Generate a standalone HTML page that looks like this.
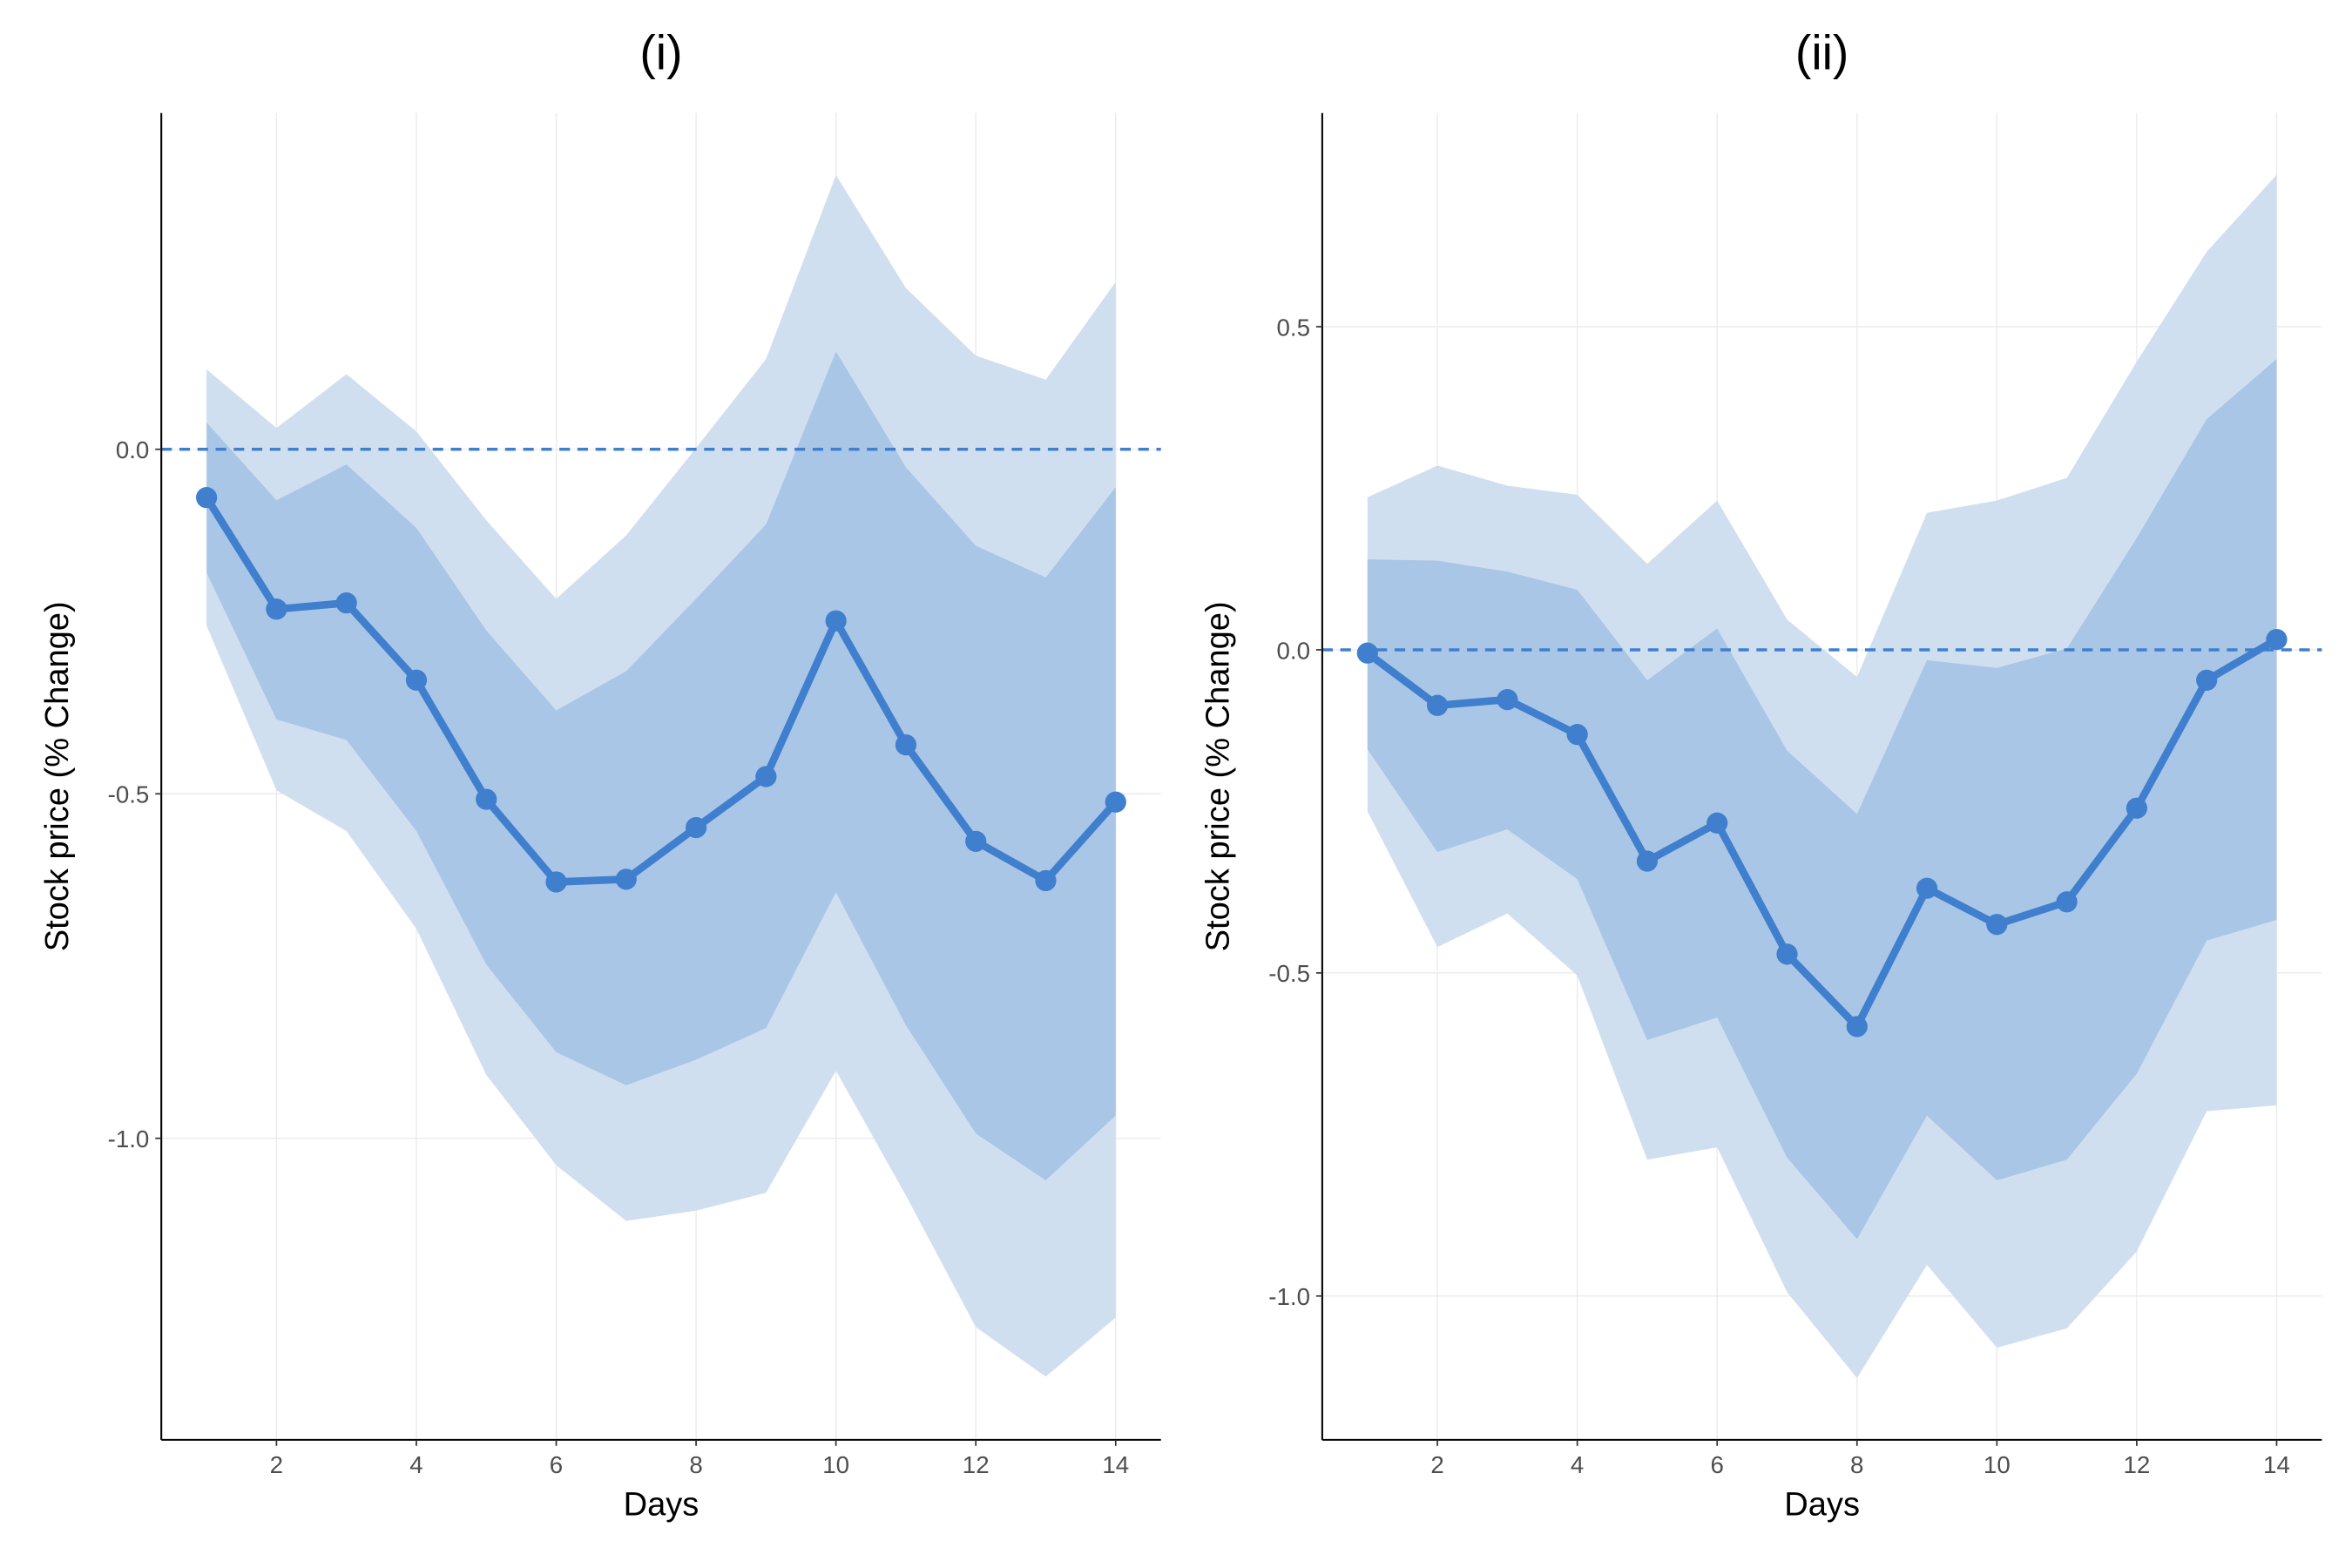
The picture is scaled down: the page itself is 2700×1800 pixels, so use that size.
<!DOCTYPE html>
<html><head><meta charset="utf-8"><style>
html,body{margin:0;padding:0;background:#fff;}
svg{display:block;font-family:"Liberation Sans",sans-serif;}
</style></head><body>
<svg id="chart" width="2700" height="1800" viewBox="0 0 1560 1040" xmlns="http://www.w3.org/2000/svg"></svg>
<script>
const days = [1,2,3,4,5,6,7,8,9,10,11,12,13,14];
const meanI = [-0.070,-0.232,-0.223,-0.335,-0.508,-0.628,-0.624,-0.549,-0.475,-0.249,-0.429,-0.569,-0.626,-0.512];
const innerUpI = [0.039,-0.074,-0.022,-0.114,-0.263,-0.379,-0.322,-0.217,-0.109,0.142,-0.026,-0.140,-0.186,-0.055];
const innerLoI = [-0.179,-0.392,-0.422,-0.554,-0.748,-0.875,-0.923,-0.886,-0.840,-0.643,-0.836,-0.993,-1.061,-0.967];
const outerUpI = [0.116,0.031,0.109,0.026,-0.103,-0.217,-0.125,0.002,0.131,0.398,0.234,0.136,0.101,0.243];
const outerLoI = [-0.256,-0.495,-0.554,-0.696,-0.908,-1.039,-1.120,-1.105,-1.079,-0.902,-1.083,-1.274,-1.346,-1.260];
const meanII = [-0.005,-0.086,-0.077,-0.131,-0.327,-0.268,-0.471,-0.583,-0.369,-0.425,-0.390,-0.245,-0.047,0.016];
const innerUpII = [0.140,0.138,0.121,0.093,-0.047,0.033,-0.156,-0.254,-0.016,-0.028,0.002,0.173,0.357,0.450];
const innerLoII = [-0.154,-0.313,-0.278,-0.355,-0.604,-0.569,-0.786,-0.912,-0.721,-0.821,-0.789,-0.656,-0.450,-0.418];
const outerUpII = [0.236,0.285,0.254,0.240,0.133,0.231,0.047,-0.042,0.212,0.231,0.266,0.446,0.616,0.735];
const outerLoII = [-0.250,-0.460,-0.408,-0.504,-0.789,-0.770,-0.994,-1.127,-0.952,-1.080,-1.050,-0.931,-0.714,-0.705];
const xTicks = [2,4,6,8,10,12,14];
const yTicksI = [0,-0.5,-1.0];
const yTicksII = [0.5,0,-0.5,-1.0];
const titles = ["(i)","(ii)"];

const NS="http://www.w3.org/2000/svg";
const svg=document.getElementById('chart');
function mk(tag,attrs,parent){const e=document.createElementNS(NS,tag);for(const k in attrs)e.setAttribute(k,attrs[k]);(parent||svg).appendChild(e);return e;}

function panel(o){
  const g=mk('g',{});
  
  
  const xs=d=>o.x1+(d-1)*(o.x14-o.x1)/13;
  const ys=v=>o.y0-v*o.ppu;
  xTicks.forEach(t=>{const l=mk('line',{x1:xs(t),x2:xs(t),y1:o.top,y2:o.bottom,stroke:'#ebebeb','stroke-width':0.8},g);
    });
  o.yt.forEach(t=>{const l=mk('line',{x1:o.left,x2:o.right,y1:ys(t),y2:ys(t),stroke:'#ebebeb','stroke-width':0.8},g);
    });
  function band(up,lo,fill,name){
    let pts=days.map((d,i)=>xs(d)+','+ys(up[i]));
    pts=pts.concat(days.slice().reverse().map((d,j)=>{const i=days.length-1-j;return xs(d)+','+ys(lo[i]);}));
    const p=mk('polygon',{points:pts.join(' '),fill:fill},g);
    
    
  }
  band(o.ou,o.ol,'#d0dff0','outer-confidence-band');
  band(o.iu,o.il,'#aac6e6','inner-confidence-band');
  const z=mk('line',{x1:o.left,x2:o.right,y1:ys(0),y2:ys(0),stroke:'#3f7fcd','stroke-width':2,'stroke-dasharray':'7,5'},g);
  
  const pl=mk('polyline',{points:days.map((d,i)=>xs(d)+','+ys(o.m[i])).join(' '),fill:'none',stroke:'#3f7fcd','stroke-width':5,'stroke-linejoin':'round'},g);
  
  days.forEach((d,i)=>{const c=mk('circle',{cx:xs(d),cy:ys(o.m[i]),r:7,fill:'#3f7fcd'},g);
    });
  const ax=mk('line',{x1:o.left,x2:o.left,y1:o.top,y2:o.bottom,stroke:'#000','stroke-width':1.2},g);
  
  const bx=mk('line',{x1:o.left,x2:o.right,y1:o.bottom,y2:o.bottom,stroke:'#000','stroke-width':1.2},g);
  
  xTicks.forEach(t=>{mk('line',{x1:xs(t),x2:xs(t),y1:o.bottom,y2:o.bottom+4,stroke:'#333'},g);
    const tx=mk('text',{x:xs(t),y:o.bottom+22,'text-anchor':'middle','font-size':16,fill:'#4d4d4d'},g);tx.textContent=t;
    });
  o.yt.forEach(t=>{mk('line',{x1:o.left-4,x2:o.left,y1:ys(t),y2:ys(t),stroke:'#333'},g);
    const tx=mk('text',{x:o.left-8,y:ys(t)+6,'text-anchor':'end','font-size':16,fill:'#4d4d4d'},g);tx.textContent=t.toFixed(1);
    });
  const xt=mk('text',{x:(o.left+o.right)/2,y:1005,'text-anchor':'middle','font-size':22,fill:'#000'},g);xt.textContent='Days';
  
  const yc=(o.top+o.bottom)/2;
  const yt=mk('text',{x:o.left-62,y:yc,'text-anchor':'middle','font-size':22,fill:'#000',transform:`rotate(-90 ${o.left-62} ${yc})`},g);yt.textContent='Stock price (% Change)';
  
  const ti=mk('text',{x:(o.left+o.right)/2,y:46,'text-anchor':'middle','font-size':32,fill:'#000'},g);ti.textContent=o.title;
  
}
panel({name:'panel-i',title:titles[0],left:107,right:770,top:75,bottom:955,x1:137,x14:740,y0:298,ppu:457,yt:yTicksI,
  m:meanI,iu:innerUpI,il:innerLoI,ou:outerUpI,ol:outerLoI});
panel({name:'panel-ii',title:titles[1],left:877,right:1540,top:75,bottom:955,x1:907,x14:1510,y0:431,ppu:428.6,yt:yTicksII,
  m:meanII,iu:innerUpII,il:innerLoII,ou:outerUpII,ol:outerLoII});
</script>
</body></html>
